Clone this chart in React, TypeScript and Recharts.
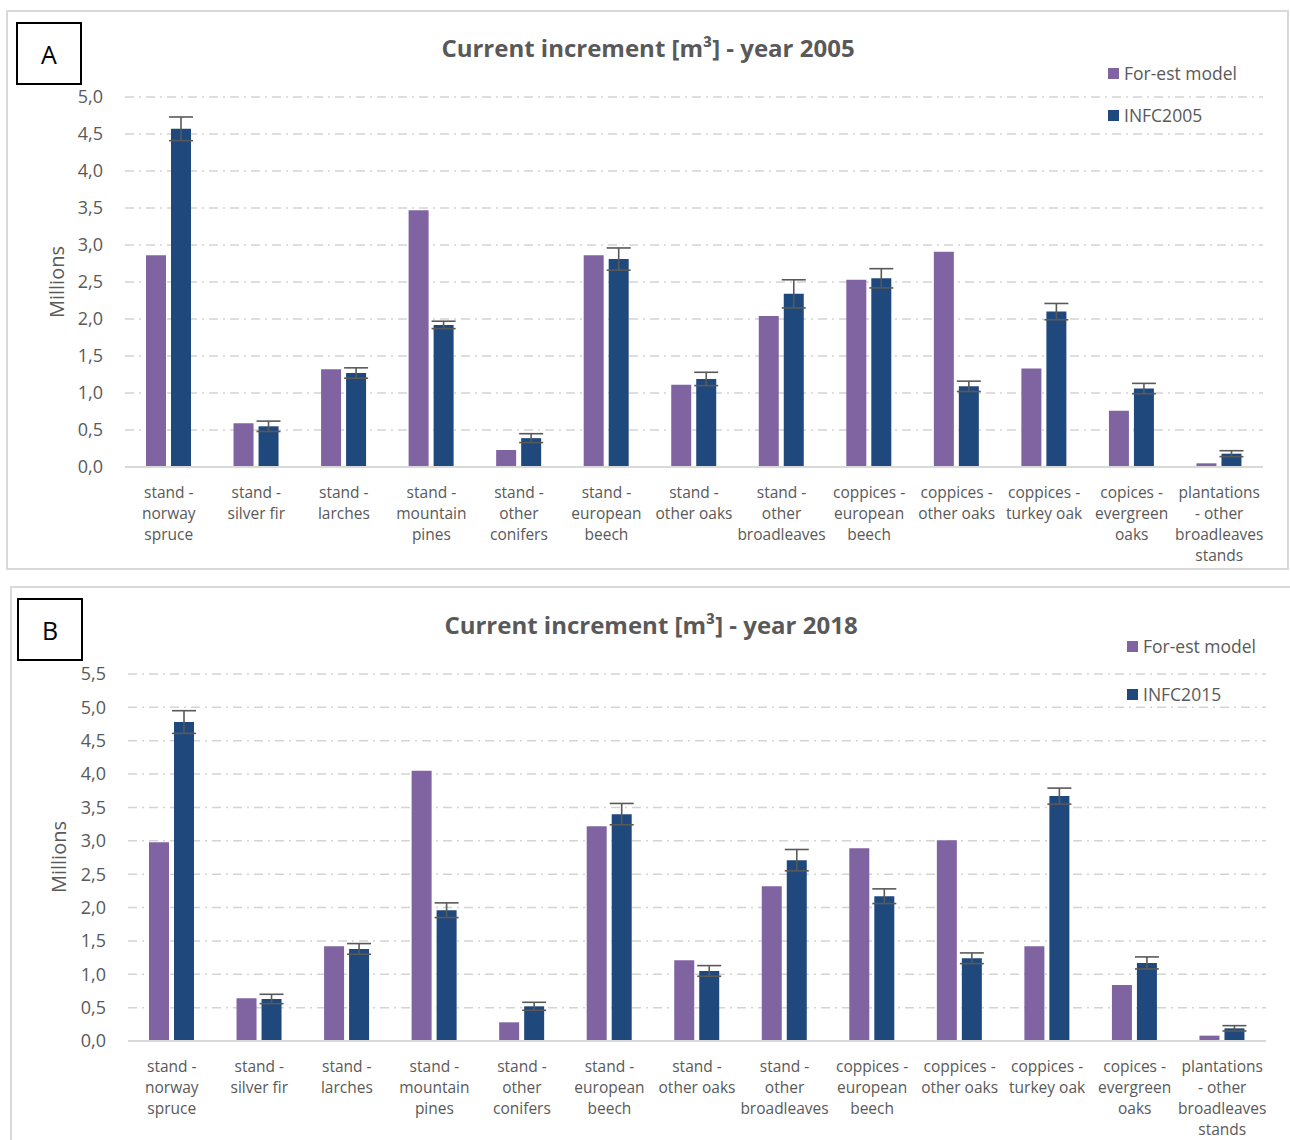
import React from "react";
import { BarChart, Bar, XAxis, YAxis, CartesianGrid, ErrorBar } from "recharts";

// categories (line breaks as in the original axis labels)
const CATEGORIES = [
  "stand -\nnorway\nspruce",
  "stand -\nsilver fir",
  "stand -\nlarches",
  "stand -\nmountain\npines",
  "stand -\nother\nconifers",
  "stand -\neuropean\nbeech",
  "stand -\nother oaks",
  "stand -\nother\nbroadleaves",
  "coppices -\neuropean\nbeech",
  "coppices -\nother oaks",
  "coppices -\nturkey oak",
  "copices -\nevergreen\noaks",
  "plantations\n- other\nbroadleaves\nstands",
];

// panel A, millions m3
const MODEL_2005 = [2.86, 0.59, 1.32, 3.47, 0.23, 2.86, 1.11, 2.04, 2.53, 2.91, 1.33, 0.76, 0.05];
const INFC_2005 = [4.57, 0.55, 1.27, 1.92, 0.39, 2.81, 1.19, 2.34, 2.55, 1.09, 2.10, 1.06, 0.18];
const ERR_2005 = [0.16, 0.07, 0.07, 0.05, 0.06, 0.15, 0.09, 0.19, 0.13, 0.07, 0.11, 0.07, 0.04];

// panel B
const MODEL_2018 = [2.98, 0.64, 1.42, 4.05, 0.28, 3.22, 1.21, 2.32, 2.89, 3.01, 1.42, 0.84, 0.08];
const INFC_2015 = [4.78, 0.63, 1.38, 1.96, 0.52, 3.40, 1.05, 2.71, 2.17, 1.24, 3.67, 1.17, 0.19];
const ERR_2015 = [0.17, 0.07, 0.08, 0.11, 0.06, 0.16, 0.08, 0.16, 0.11, 0.08, 0.12, 0.09, 0.04];

const TICKS_A = [0, 0.5, 1, 1.5, 2, 2.5, 3, 3.5, 4, 4.5, 5];
const TICKS_B = [0, 0.5, 1, 1.5, 2, 2.5, 3, 3.5, 4, 4.5, 5, 5.5];

const PURPLE = "#8064A2";
const BLUE = "#1F497D";
const GREY = "#595959";
const FONT = "'Open Sans', 'Noto Sans', sans-serif";

const fmt = (v: number) => v.toFixed(1).replace(".", ",");

const MultiLineTick = ({ x, y, payload }: any) => {
  const lines = String(payload.value).split("\n");
  return (
    <text x={x} y={y} textAnchor="middle" fill={GREY} fontSize={15.5} fontFamily={FONT}>
      {lines.map((l, i) => (
        <tspan key={i} x={x} dy={i === 0 ? 23 : 21}>{l}</tspan>
      ))}
    </text>
  );
};

type PanelProps = {
  letter: string;
  title: string;
  infcName: string;
  model: number[];
  infc: number[];
  err: number[];
  ticks: number[];
  box: { left: number; top: number; width: number; height: number };
  letterBox: { left: number; top: number };
  titleY: number;
  titleX: number;
  legend: { left: number; top: number; gap: number };
  chart: { top: number; height: number; left: number; right: number; xHeight: number; bottom: number };
  millions: { x: number; y: number };
};

function Panel(p: PanelProps) {
  const data = CATEGORIES.map((name, i) => ({
    name, model: p.model[i], infc: p.infc[i], err: p.err[i],
  }));
  const max = p.ticks[p.ticks.length - 1];
  return (
    <>
      <div style={{
        position: "absolute", left: p.box.left, top: p.box.top, width: p.box.width, height: p.box.height,
        border: "2px solid #d9d9d9", boxSizing: "border-box",
      }} />
      <div style={{
        position: "absolute", left: p.letterBox.left, top: p.letterBox.top, width: 66, height: 63,
        border: "2px solid #000", boxSizing: "border-box", background: "#fff",
        display: "flex", alignItems: "center", justifyContent: "center",
        fontFamily: FONT, fontSize: 25, color: "#000",
      }}>{p.letter}</div>
      <div style={{
        position: "absolute", left: p.titleX - 300, width: 600, top: p.titleY - 17, textAlign: "center",
        fontFamily: FONT, fontWeight: 700, fontSize: 24, color: GREY, lineHeight: "34px",
      }}>{p.title}</div>
      <div style={{ position: "absolute", left: p.legend.left, top: p.legend.top, fontFamily: FONT, fontSize: 17.5, color: GREY }}>
        {[{ label: "For-est model", color: PURPLE }, { label: p.infcName, color: BLUE }].map((d, i) => (
          <div key={d.label} style={{ display: "flex", alignItems: "center", gap: 5, height: 24, marginTop: i === 0 ? 0 : p.legend.gap }}>
            <div style={{ width: 11, height: 11, background: d.color }} />
            {d.label}
          </div>
        ))}
      </div>
      <div style={{
        position: "absolute", left: p.millions.x - 60, top: p.millions.y - 14, width: 120, height: 28,
        transform: "rotate(-90deg)", textAlign: "center", fontFamily: FONT, fontSize: 20, color: GREY, lineHeight: "28px",
      }}>Millions</div>
      <div style={{ position: "absolute", left: 0, top: p.chart.top }}>
        <BarChart
          width={1290}
          height={p.chart.height}
          data={data}
          barSize={20}
          barGap={5}
          margin={{ top: 20, right: 1290 - p.chart.right, bottom: p.chart.bottom, left: 0 }}
        >
          <CartesianGrid vertical={false} stroke="#d4d4d4" strokeWidth={1.5} strokeDasharray="9 5 2 5" />
          <XAxis
            dataKey="name"
            interval={0}
            height={p.chart.xHeight}
            tick={<MultiLineTick />}
            tickLine={false}
            tickSize={6}
            tickMargin={2}
            axisLine={{ stroke: "#d9d9d9", strokeWidth: 2 }}
          />
          <YAxis
            width={p.chart.left}
            domain={[0, max]}
            ticks={p.ticks}
            interval={0}
            tickFormatter={fmt}
            tick={{ fill: GREY, fontSize: 18, fontFamily: FONT }}
            tickLine={false}
            axisLine={false}
            tickMargin={16}
          />
          <Bar dataKey="model" fill={PURPLE} isAnimationActive={false} />
          <Bar dataKey="infc" fill={BLUE} isAnimationActive={false}>
            <ErrorBar dataKey="err" direction="y" width={12} stroke={GREY} strokeWidth={1.6} isAnimationActive={false} />
          </Bar>
        </BarChart>
      </div>
    </>
  );
}

export default function App() {
  return (
    <div style={{ position: "absolute", left: 0, top: 0, width: 1290, height: 1140, background: "#fff", overflow: "hidden" }}>
      <Panel
        letter="A"
        title="Current increment [m³] - year 2005"
        infcName="INFC2005"
        model={MODEL_2005}
        infc={INFC_2005}
        err={ERR_2005}
        ticks={TICKS_A}
        box={{ left: 6, top: 10, width: 1283, height: 560 }}
        letterBox={{ left: 16, top: 22 }}
        titleX={648}
        titleY={48}
        legend={{ left: 1108, top: 61, gap: 18 }}
        chart={{ top: 77, height: 510, left: 125, right: 1263, xHeight: 100, bottom: 20 }}
        millions={{ x: 57, y: 282 }}
      />
      <Panel
        letter="B"
        title="Current increment [m³] - year 2018"
        infcName="INFC2015"
        model={MODEL_2018}
        infc={INFC_2015}
        err={ERR_2015}
        ticks={TICKS_B}
        box={{ left: 10, top: 586, width: 1290, height: 600 }}
        letterBox={{ left: 17, top: 598 }}
        titleX={651}
        titleY={625}
        legend={{ left: 1127, top: 634, gap: 24 }}
        chart={{ top: 654, height: 486, left: 128, right: 1266, xHeight: 90, bottom: 9 }}
        millions={{ x: 59, y: 857 }}
      />
    </div>
  );
}
